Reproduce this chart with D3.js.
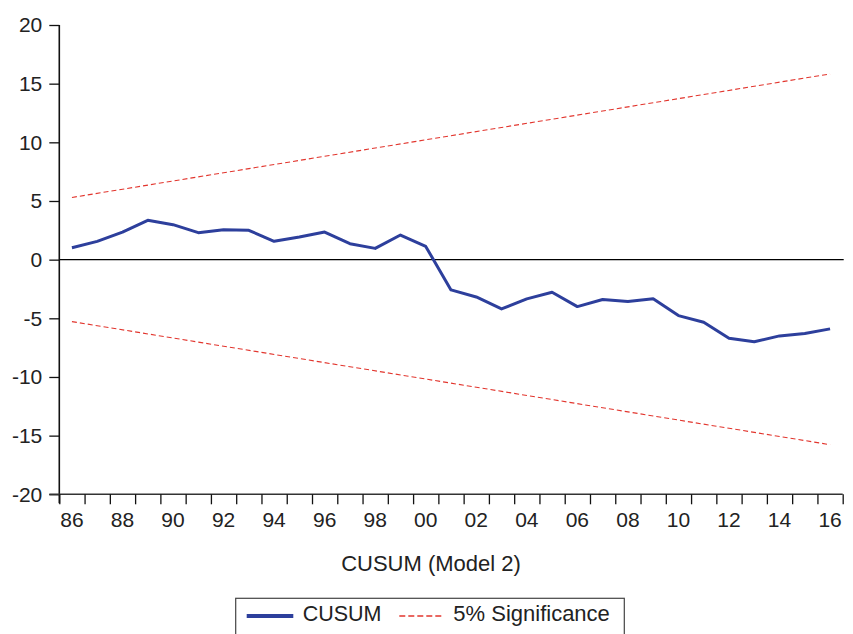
<!DOCTYPE html>
<html>
<head>
<meta charset="utf-8">
<title>CUSUM (Model 2)</title>
<script src="https://d3js.org/d3.v7.min.js"></script>
<style>
  body { margin: 0; background: #fff; }
  text { font-family: "Liberation Sans", Arial, sans-serif; fill: #222; }
</style>
</head>
<body>
<div id="chart"></div>
<script>
// data
const years = d3.range(1986, 2017);
const cusum = [1.02, 1.56, 2.35, 3.35, 2.98, 2.30, 2.55, 2.50, 1.56, 1.93,
               2.35, 1.36, 0.96, 2.10, 1.13, -2.58, -3.18, -4.20, -3.34, -2.78,
               -4.00, -3.40, -3.57, -3.34, -4.77, -5.33, -6.70, -7.00, -6.50, -6.30, -5.90];
const boundYears = [1986, 2016];
const upper = [5.3, 15.83];
const lower = [-5.28, -15.77];
const yTicks = [20, 15, 10, 5, 0, -5, -10, -15, -20];
const xLabelYears = d3.range(1986, 2017, 2);

const W = 853, H = 634;
const plotL = 59.3, plotR = 842.7, plotT = 25, plotB = 494.3;

const svg = d3.select("#chart").append("svg")
    .attr("width", W).attr("height", H);

const x = d3.scaleLinear().domain([1985.5, 2016.5]).range([plotL, plotR]);
const y = d3.scaleLinear().domain([-20, 20]).range([plotB, plotT]);

// zero line
svg.append("line")
    .attr("x1", plotL).attr("x2", plotR + 1)
    .attr("y1", y(0)).attr("y2", y(0))
    .attr("stroke", "#000").attr("stroke-width", 1.3);

// significance bounds
const line = d3.line().x(d => x(d[0])).y(d => y(d[1]));
[upper, lower].forEach(b => {
  svg.append("path")
      .datum(boundYears.map((yr, i) => [yr, b[i]]))
      .attr("d", line)
      .attr("fill", "none")
      .attr("stroke", "#e2362e")
      .attr("stroke-width", 1.1)
      .attr("stroke-dasharray", "5,3");
});

// cusum
svg.append("path")
    .datum(years.map((yr, i) => [yr, cusum[i]]))
    .attr("d", line)
    .attr("fill", "none")
    .attr("stroke", "#2d3f9c")
    .attr("stroke-width", 3)
    .attr("stroke-linejoin", "round");

// y axis (plain hyphen minus like the original)
const yAxis = d3.axisLeft(y).tickValues(yTicks).tickSize(10).tickPadding(7)
    .tickFormat(d => String(d));
const gy = svg.append("g").attr("transform", "translate(" + plotL + ",0)").call(yAxis);
gy.select(".domain").attr("stroke", "#111").attr("stroke-width", 1.6).attr("d", "M0," + plotT + "V" + (plotB + 9));
gy.selectAll(".tick line").attr("stroke", "#111").attr("stroke-width", 1.3);
gy.selectAll(".tick text").attr("font-size", "21px").attr("font-family", "Liberation Sans, Arial, sans-serif").attr("fill", "#222");

// x axis: ticks at year boundaries, labels on even years
const xAxis = d3.axisBottom(x).tickValues(d3.range(1985.5, 2017, 1)).tickSize(10).tickFormat("");
const gx = svg.append("g").attr("transform", "translate(0," + plotB + ")").call(xAxis);
gx.select(".domain").attr("stroke", "#333").attr("stroke-width", 1.6).attr("d", "M" + (plotL - 10) + ",0H" + plotR);
gx.selectAll(".tick line").attr("stroke", "#111").attr("stroke-width", 1.3);

svg.append("g").selectAll("text")
    .data(xLabelYears)
    .enter().append("text")
    .attr("x", d => x(d))
    .attr("y", 526.5)
    .attr("text-anchor", "middle")
    .attr("font-size", "21px")
    .text(d => String(d % 100).padStart(2, "0"));

// title
svg.append("text")
    .attr("x", 431).attr("y", 570.5)
    .attr("text-anchor", "middle")
    .attr("font-size", "22px")
    .text("CUSUM (Model 2)");

// legend
const lg = svg.append("g");
lg.append("rect")
    .attr("x", 235.7).attr("y", 598.3)
    .attr("width", 388.6).attr("height", 40)
    .attr("fill", "#fff").attr("stroke", "#444").attr("stroke-width", 1.2);
lg.append("line")
    .attr("x1", 246.7).attr("x2", 293.3).attr("y1", 616).attr("y2", 616)
    .attr("stroke", "#2d3f9c").attr("stroke-width", 4);
lg.append("text").attr("x", 302.7).attr("y", 620.7).attr("font-size", "21.5px").text("CUSUM");
lg.append("line")
    .attr("x1", 399.3).attr("x2", 442.7).attr("y1", 616).attr("y2", 616)
    .attr("stroke", "#e2362e").attr("stroke-width", 1.4).attr("stroke-dasharray", "6,3");
lg.append("text").attr("x", 453.3).attr("y", 620.7).attr("font-size", "22px").text("5% Significance");
</script>
</body>
</html>
